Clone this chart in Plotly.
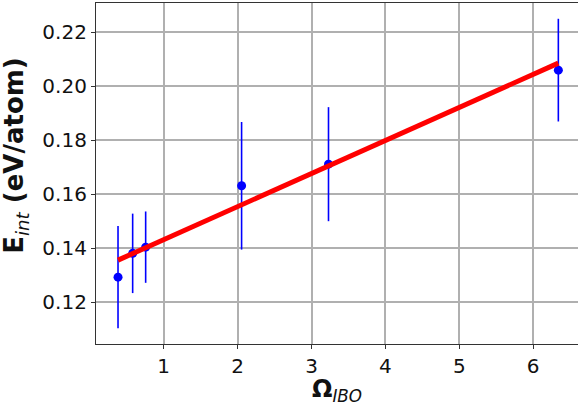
import plotly.graph_objects as go

# Interaction energy vs. IBO overlap, with error bars and linear fit
omega_ibo = [0.382, 0.58, 0.756, 2.054, 3.23, 6.34]
e_int = [0.1293, 0.1381, 0.1404, 0.1631, 0.1711, 0.2059]
e_err = [0.0189, 0.0147, 0.0132, 0.0236, 0.0211, 0.0190]

fit_x = [0.382, 6.34]
fit_y = [0.1356, 0.2085]

x_ticks = [1, 2, 3, 4, 5, 6]
y_ticks = [0.12, 0.14, 0.16, 0.18, 0.20, 0.22]

fig = go.Figure()

fig.add_trace(go.Scatter(
    x=omega_ibo, y=e_int, mode="markers",
    marker=dict(color="#0000ff", size=9),
    error_y=dict(type="data", array=e_err, color="#0000ff", thickness=1.6, width=0),
    showlegend=False,
))

fig.add_trace(go.Scatter(
    x=fit_x, y=fit_y, mode="lines",
    line=dict(color="#ff0000", width=5),
    showlegend=False,
))

font = "DejaVu Sans"
axis_common = dict(
    showgrid=True, gridcolor="#b0b0b0", gridwidth=2,
    showline=True, linecolor="#333333", linewidth=1.2, mirror=True,
    ticks="outside", ticklen=4, tickcolor="#333333", tickwidth=1.2,
    tickfont=dict(family=font, size=20, color="#111111"),
    zeroline=False,
)

fig.update_layout(
    width=578, height=407,
    margin=dict(l=96, r=0, t=3, b=63),
    plot_bgcolor="white", paper_bgcolor="white",
    xaxis=dict(range=[0.084, 6.606], tickvals=x_ticks, **axis_common),
    yaxis=dict(range=[0.10456, 0.23074], tickvals=y_ticks, tickformat=".2f",
               **axis_common),
    annotations=[
        dict(text="<b>Ω</b><sub><i>IBO</i></sub>", xref="paper", yref="paper",
             x=0.5, y=-0.136, xanchor="center", yanchor="middle",
             showarrow=False, font=dict(family=font, size=24, color="#111111")),
        dict(text="<b>E</b><sub><i>int</i></sub><b> (eV/atom)</b>",
             xref="paper", yref="paper", x=-0.166, y=0.552,
             xanchor="center", yanchor="middle", textangle=-90,
             showarrow=False, font=dict(family=font, size=26, color="#111111")),
    ],
)

fig.write_html("out.html")
